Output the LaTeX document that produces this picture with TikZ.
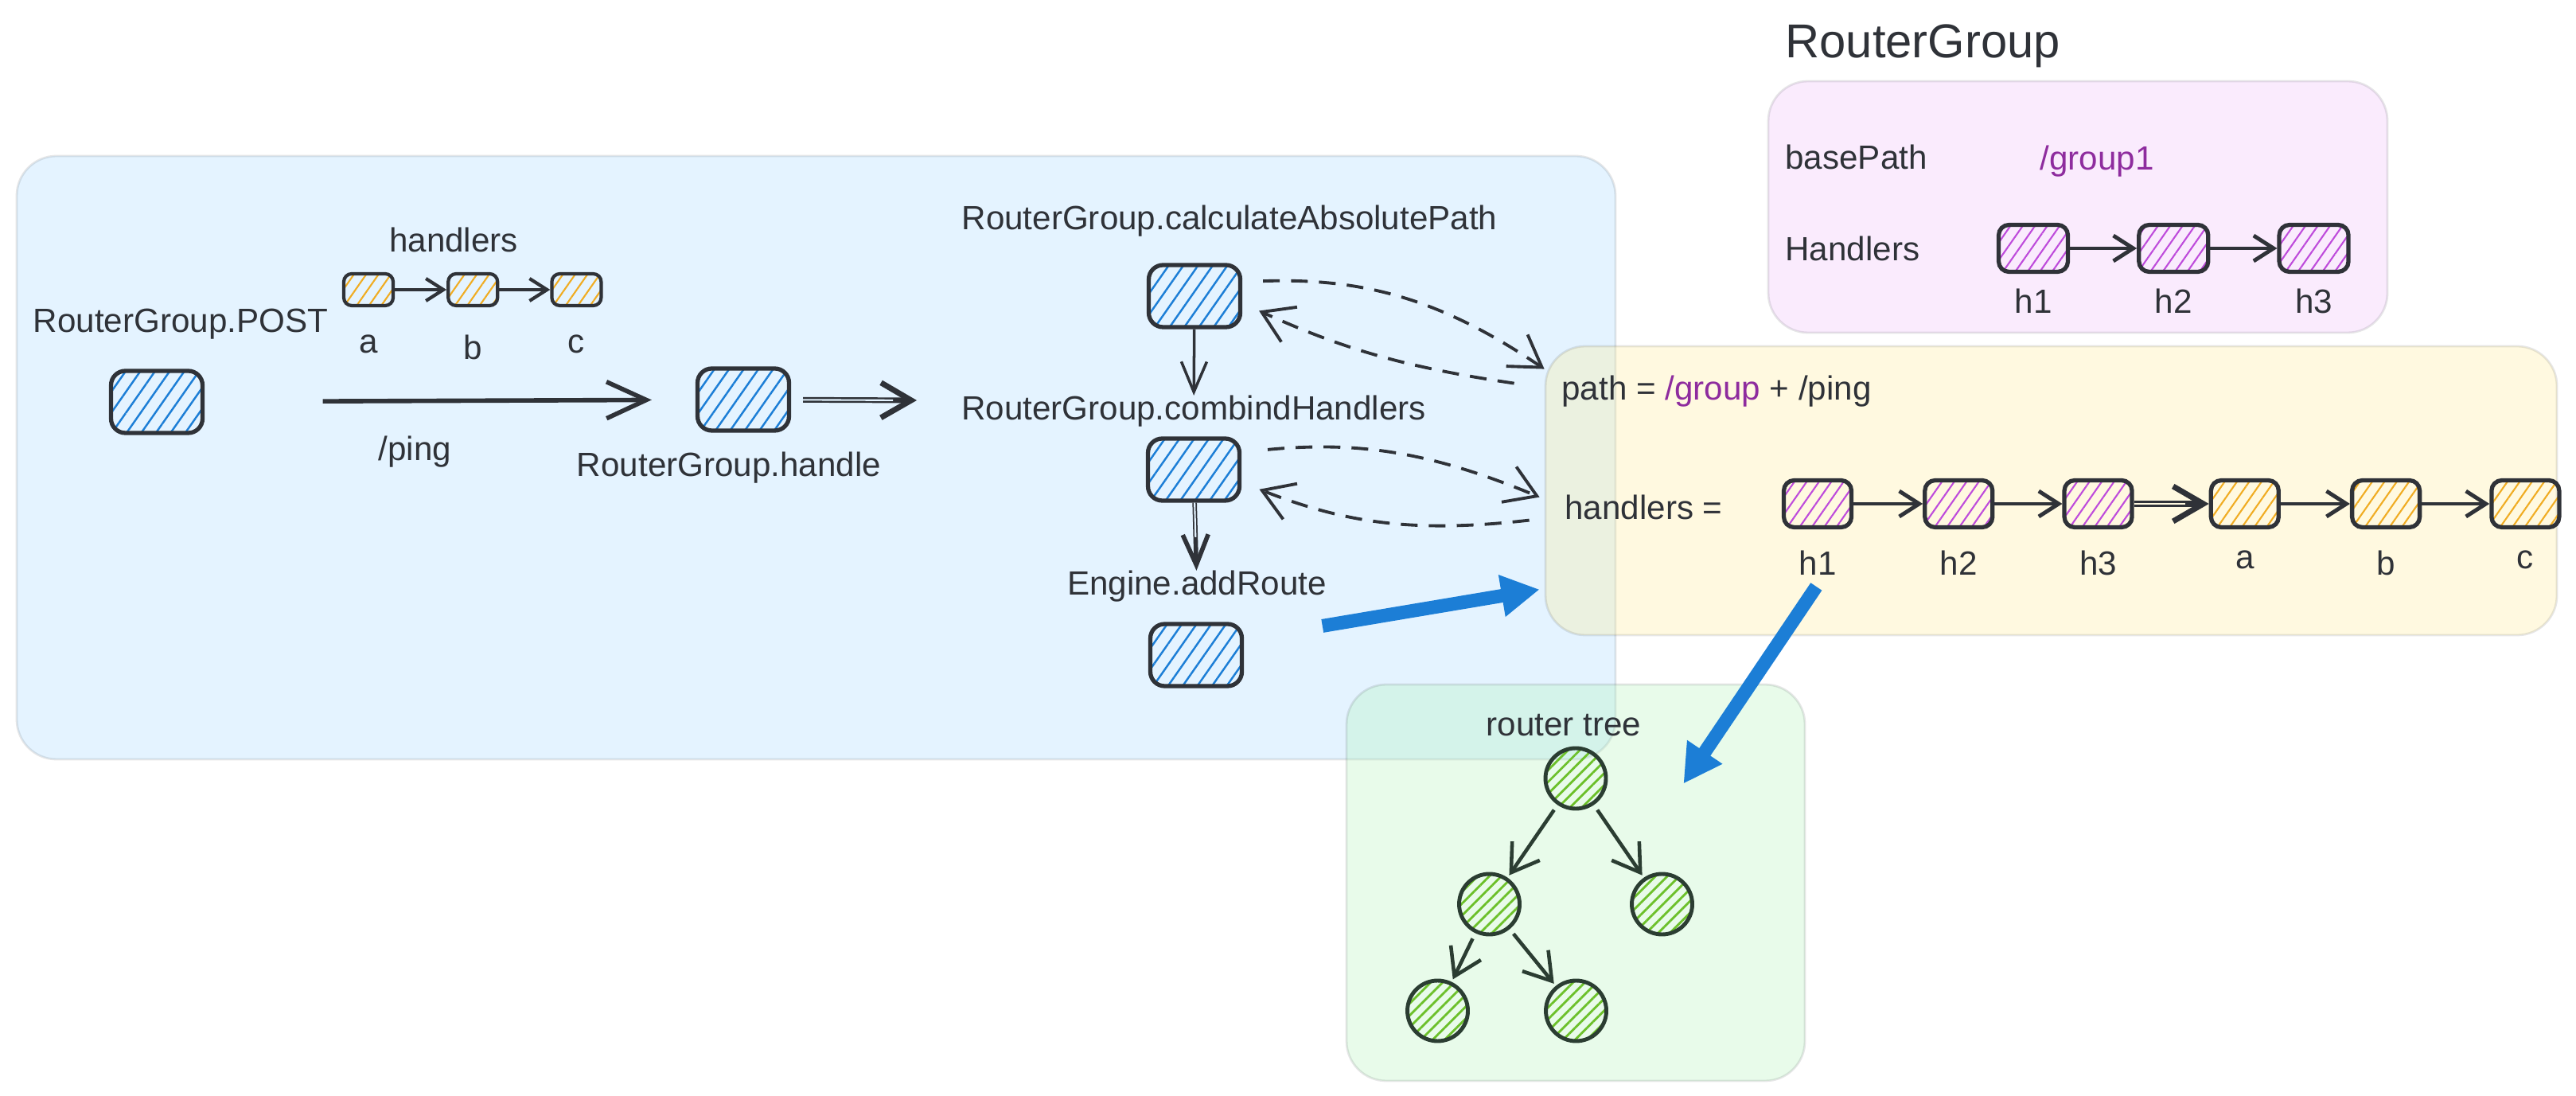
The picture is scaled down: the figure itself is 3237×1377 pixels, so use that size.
\documentclass[tikz,border=0pt]{standalone}
\usepackage{fontspec}
\setmainfont{Liberation Sans}
\usepackage{tikz}
\usetikzlibrary{positioning,arrows.meta,trees,shapes,fit,patterns.meta}

\definecolor{ink}{HTML}{2F3238}
\definecolor{leafink}{HTML}{2B3D32}
\definecolor{hatchblue}{HTML}{1C7ED6}
\definecolor{hatchgold}{HTML}{F0AC22}
\definecolor{hatchviolet}{HTML}{BE4BDB}
\definecolor{hatchleaf}{HTML}{6CC02A}
\definecolor{textviolet}{HTML}{8E2C9E}
\definecolor{pushblue}{HTML}{1C7ED6}
\definecolor{zoneblue}{HTML}{A5D8FF}
\definecolor{zonegold}{HTML}{FFEC99}
\definecolor{zoneviolet}{HTML}{EEBEFA}
\definecolor{zoneleaf}{HTML}{B2F2BB}

\tikzset {
    style zone/.style={
        draw=ink,
        draw opacity=0.12,
        line width=0.8pt,
        fill opacity=0.3,
        rectangle, % Set the shape as a rectangle
        rounded corners=5mm,
        inner sep=0pt,
    },
    style blue/.style={
        draw=ink,
        line width=1.5pt,
        rectangle, % Set the shape as a rectangle
        rounded corners=1.8mm,
        minimum width=11.5mm,
        minimum height=7.8mm,
        pattern={Lines[angle=55,distance=4.3pt,line width=0.7pt]},
        pattern color=hatchblue,
    },
    style gold/.style={
        draw=ink,
        line width=1.5pt,
        rectangle, % Set the shape as a rectangle
        rounded corners=1.3mm,
        minimum width=8.5mm,
        minimum height=5.9mm,
        pattern={Lines[angle=55,distance=3.6pt,line width=0.6pt]},
        pattern color=hatchgold,
    },
    style violet/.style={
        style gold,
        pattern color=hatchviolet,
    },
    style chip/.style={
        style gold,
        line width=1.2pt,
        rounded corners=1mm,
        minimum width=6.2mm,
        minimum height=4mm,
    },
    style leaf/.style={
        draw=leafink,
        line width=1.4pt,
        circle,
        minimum size=7.6mm,
        outer sep=0pt,
        pattern={Lines[angle=45,distance=3pt,line width=0.8pt]},
        pattern color=hatchleaf,
    },
    style link/.style={
        draw=ink,
        line width=1.4pt,
        -{Straight Barb[length=2.5mm,width=3.2mm]},
    },
    style twin/.style={
        draw=ink,
        line width=2pt,
        -{Straight Barb[length=3.8mm,width=4.4mm]},
        postaction={draw=#1, line width=0.6pt, -, shorten >=3mm},
    },
    style twin/.default=zoneblue!30,
    style echo/.style={
        draw=ink,
        line width=1.1pt,
        dash pattern=on 6pt off 4pt,
        -{Straight Barb[length=3.8mm,width=4.8mm]},
    },
    style push/.style={
        draw=pushblue,
        line width=1.7mm,
        -{Triangle[length=4.8mm,width=5mm]},
    },
}

\begin{document}
\begin{tikzpicture}
        [x=0.1mm, y=-0.1mm, font=\fontsize{12}{14}\selectfont, text=ink,
        edge from parent/.style={draw=leafink, line width=1.3pt, -{Straight Barb[length=3.3mm,width=4.2mm]}, shorten <=1mm, shorten >=0.6mm},
        level 1/.style={sibling distance=21.7mm, level distance=15.8mm},
        level 2/.style={sibling distance=17.4mm, level distance=13.4mm}]

        \useasboundingbox (0,0) rectangle (3237,1377);

        % zones
        \node[style zone, fill=zoneblue, minimum width=200.9mm, minimum height=75.8mm] (zblue) at (1025.5,575) {};
        \node[style zone, fill=zoneviolet, minimum width=77.8mm, minimum height=31.6mm] (zviolet) at (2611,260) {};
        \node[style zone, fill=zonegold, minimum width=127.1mm, minimum height=36.3mm] (zgold) at (2577.5,616.5) {};
        \node[style zone, fill=zoneleaf, minimum width=57.6mm, minimum height=49.8mm] (zleaf) at (1980,1109) {};

        % RouterGroup.POST and its handlers
        \node (postlbl) at (227,407) {RouterGroup.POST};
        \node[style blue] (post) at (197,505) {};
        \node (hdrlbl) at (570,301) {handlers};
        \node[style chip] (ga) at (463,364) {};
        \node[style chip] (gb) [right=6.5mm of ga] {};
        \node[style chip] (gc) [right=6.4mm of gb] {};
        \node (ta) [below=2.2mm of ga] {a};
        \node (tb) [below=2.2mm of gb] {b};
        \node (tc) [below=2.2mm of gc] {c};
        \draw[style link, line width=1.2pt, -{Straight Barb[length=2.2mm,width=2.8mm]}] (ga) -- (gb);
        \draw[style link, line width=1.2pt, -{Straight Barb[length=2.2mm,width=2.8mm]}] (gb) -- (gc);

        \node[style blue] (hdl) at (934,502) {};
        \node (hdllbl) at (916,588) {RouterGroup.handle};
        \draw[style link, line width=1.6pt, -{Straight Barb[length=5mm,width=4.6mm]}, shorten <=15mm, shorten >=5.5mm] (post) -- node[below=3mm, pos=0.43] (ping) {/ping} (hdl);
        \coordinate (hdlend) at (1152,503);
        \draw[style twin, shorten <=1.5mm] (hdl) -- (hdlend);

        % call chain
        \node (calclbl) at (1545,278) {RouterGroup.calculateAbsolutePath};
        \node[style blue] (calc) at (1501,372) {};
        \node (comblbl) at (1500,517) {RouterGroup.combindHandlers};
        \node[style blue] (comb) at (1500,590) {};
        \node (addrlbl) at (1504,737) {Engine.addRoute};
        \node[style blue] (addr) at (1503,823) {};
        \draw[style link, line width=1pt, -{Straight Barb[length=3.8mm,width=3.2mm]}, shorten >=-1.2mm] (calc) -- (comblbl);
        \draw[style twin, line width=1.6pt, -{Straight Barb[length=3.8mm,width=3.2mm]}, shorten >=-1.2mm] (comb) -- (addrlbl);

        \draw[style echo, shorten <=2.6mm] ([yshift=1.8mm]calc.east) to[bend left=18] ([yshift=-3mm]zgold.north west);
        \draw[style echo, shorten >=2.3mm] ([xshift=-3.8mm,yshift=-4.8mm]zgold.north west) to[bend left=8] ([yshift=-0.9mm]calc.east);
        \draw[style echo, shorten <=3.3mm] ([yshift=2.2mm]comb.east) to[bend left=14] ([xshift=-0.6mm,yshift=-19.1mm]zgold.north west);
        \draw[style echo, shorten >=2.4mm] ([xshift=-1.9mm,yshift=-22mm]zgold.north west) to[bend left=14] ([yshift=-1.6mm]comb.east);

        % RouterGroup
        \node[font=\fontsize{17}{20}\selectfont, anchor=west] (title) at (2231,58) {RouterGroup};
        \node[anchor=west] (baselbl) at (2231,197) {basePath};
        \node[anchor=west, text=textviolet] (baseval) at (2551,203) {/group1};
        \node[anchor=west] (hlistlbl) at (2231,312) {Handlers};
        \node[style violet, minimum width=8.7mm] (ph1) at (2555,312) {};
        \node[style violet, minimum width=8.7mm] (ph2) [right=8.4mm of ph1] {};
        \node[style violet, minimum width=8.7mm] (ph3) [right=8.4mm of ph2] {};
        \node (pt1) [below=0.6mm of ph1] {h1};
        \node (pt2) [below=0.6mm of ph2] {h2};
        \node (pt3) [below=0.6mm of ph3] {h3};
        \draw[style link] (ph1) -- (ph2);
        \draw[style link] (ph2) -- (ph3);

        % combined path and handlers
        \node[anchor=west] (pathlbl) at (1950,492) {path = \textcolor{textviolet}{/group} + /ping};
        \node[anchor=west] (hlbl) at (1954,637) {handlers =};
        \node[style violet] (yh1) at (2284,633) {};
        \node[style violet] (yh2) [right=8.7mm of yh1] {};
        \node[style violet] (yh3) [right=8.5mm of yh2] {};
        \node[style gold] (ya) [right=9.4mm of yh3] {};
        \node[style gold] (yb) [right=8.7mm of ya] {};
        \node[style gold] (yc) [right=8.5mm of yb] {};
        \node (yt1) [below=1.4mm of yh1] {h1};
        \node (yt2) [below=1.4mm of yh2] {h2};
        \node (yt3) [below=1.4mm of yh3] {h3};
        \node (yta) [below=1.4mm of ya] {a};
        \node (ytb) [below=1.4mm of yb] {b};
        \node (ytc) [below=1.4mm of yc] {c};
        \draw[style link] (yh1) -- (yh2);
        \draw[style link] (yh2) -- (yh3);
        \draw[style twin=zonegold!30] (yh3) -- (ya);
        \draw[style link] (ya) -- (yb);
        \draw[style link] (yb) -- (yc);

        % router tree
        \node (treelbl) at (1965,911) {router tree};
        \node[style leaf] (root) at (1980,978) {}
            child { node[style leaf] (mid) {}
                child[xshift=2.2mm] { node[style leaf] (ll) {} }
                child[xshift=2.2mm] { node[style leaf] (lr) {} }
            }
            child { node[style leaf] (rt) {} };

        \draw[style push, shorten <=10mm] ([yshift=2mm]addr.east) -- ([xshift=-0.6mm,yshift=-30.7mm]zgold.north west);
        \draw[style push, shorten <=0.3mm] (yt1.south) -- ([xshift=-15.4mm,yshift=-12.6mm]zleaf.north east);

    \end{tikzpicture}
\end{document}
